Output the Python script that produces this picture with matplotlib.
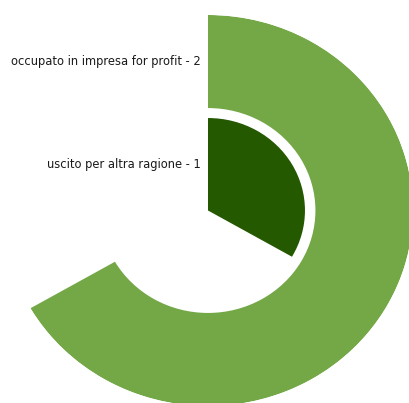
import numpy as np
from matplotlib import pyplot as plt

# radial bar data: one ring per category, full turn = scale_max
categories = ["uscito per altra ragione", "occupato in impresa for profit"]
values = [1, 2]
scale_max = 3
colors = ["#245900", "#74a846"]

# ring radii as a fraction of the outer radius (inner ring is a sector from the centre)
ring_bottom = [0, 0.524]
ring_top = [0.473, 1.0]

W, H = 410, 403
cx, cy = 208, 403 - 210.5
RX, RY = 205, 195.5   # the chart is drawn slightly wider than tall

fig = plt.figure(figsize=(W / 100, H / 100), dpi=100)
ax = fig.add_axes([(cx - RX) / W, (cy - RY) / H, 2 * RX / W, 2 * RY / H], projection="polar")
ax.set_aspect("auto")
ax.set_theta_zero_location("N")
ax.set_theta_direction(-1)
ax.set_ylim(0, 1)
ax.axis("off")

for cat, val, col, b, t in zip(categories, values, colors, ring_bottom, ring_top):
    span = 2 * np.pi * val / scale_max
    ax.bar(span / 2, t - b, width=span, bottom=b, color=col, edgecolor="none", align="center")
    # label sits left of the start line, at the ring's mid radius
    fig.text((cx - 7) / W, (cy + RY * (b + t) / 2) / H, "%s - %d" % (cat, val),
             ha="right", va="center", fontsize=8.3, color="#1a1a1a")

fig.savefig("out.png", dpi=100)
